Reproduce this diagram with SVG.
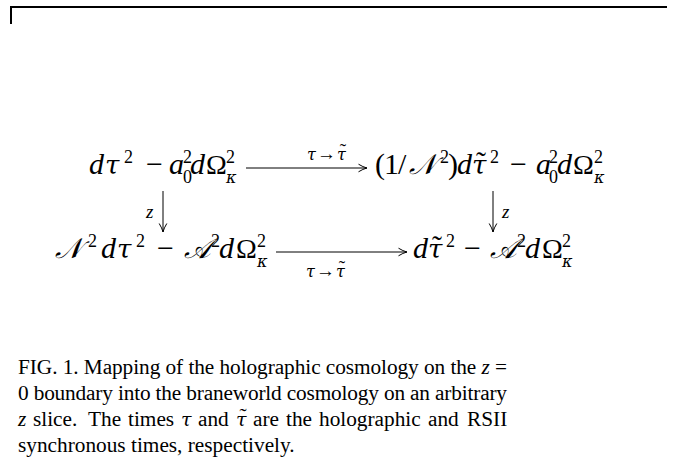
<svg xmlns="http://www.w3.org/2000/svg" width="689" height="470" viewBox="0 0 689 470">
<style>
text{font-family:"Liberation Serif","Times New Roman",serif;fill:#000}
.m{font-size:30px}
.o{font-size:28px}
.c{font-size:28px;font-style:italic}
.i{font-style:italic}
.g{font-family:"DejaVu Serif",serif;font-style:italic;font-size:26px}
.gs{font-family:"DejaVu Serif",serif;font-style:italic;font-size:16px}
.s{font-size:18px}
.l{font-size:19px}
.t{font-size:30px;text-anchor:middle}
.cap{font-size:21.3px}
.cg{font-family:"DejaVu Serif",serif;font-style:italic;font-size:19px}
.ln{stroke:#000;stroke-width:1;fill:none}
.ah{stroke:#000;stroke-width:1;fill:none}
</style>
<defs>
<marker id="arr" markerUnits="userSpaceOnUse" markerWidth="12" markerHeight="10" refX="10" refY="5" orient="auto" overflow="visible">
<path class="ah" d="M1.5 1.2 Q6 4 10 5 Q6 6 1.5 8.8"/>
</marker>
</defs>
<rect x="10" y="6" width="657" height="2" fill="#000"/>
<rect x="10" y="6" width="2" height="18" fill="#000"/>
<g id="n-tl">
<text class="m i" x="89" y="174">d</text>
<text class="g" x="105" y="174">τ</text>
<text class="s" x="124" y="163">2</text>
<text class="m" x="146" y="174">−</text>
<text class="m i" x="169" y="174">a</text>
<text class="s" x="183" y="163">2</text>
<text class="s" x="183" y="183">0</text>
<text class="m i" x="190" y="174">d</text>
<text class="o" x="206" y="174">Ω</text>
<text class="s" x="226" y="163">2</text>
<text class="gs" x="226" y="183">κ</text>
</g>
<g id="n-tr">
<text class="m" x="375" y="174">(</text>
<text class="m" x="384" y="174">1</text>
<text class="m" x="398" y="174">/</text>
<text class="c" x="409" y="174">𝒩</text>
<text class="s" x="440" y="163">2</text>
<text class="m" x="448" y="174">)</text>
<text class="m i" x="457" y="174">d</text>
<text class="g" x="472" y="174">τ</text>
<text class="t" x="481" y="172">˜</text>
<text class="s" x="490" y="163">2</text>
<text class="m" x="510" y="174">−</text>
<text class="m i" x="536" y="174">a</text>
<text class="s" x="549" y="163">2</text>
<text class="s" x="549" y="183">0</text>
<text class="m i" x="557" y="174">d</text>
<text class="o" x="573" y="174">Ω</text>
<text class="s" x="594" y="163">2</text>
<text class="gs" x="594" y="183">κ</text>
</g>
<g id="n-bl">
<text class="c" x="55" y="258">𝒩</text>
<text class="s" x="88" y="247">2</text>
<text class="m i" x="101" y="258">d</text>
<text class="g" x="117" y="258">τ</text>
<text class="s" x="136" y="247">2</text>
<text class="m" x="157" y="258">−</text>
<text class="c" x="184" y="258">𝒜</text>
<text class="s" x="211" y="247">2</text>
<text class="m i" x="219" y="258">d</text>
<text class="o" x="236" y="258">Ω</text>
<text class="s" x="257" y="247">2</text>
<text class="gs" x="257" y="267">κ</text>
</g>
<g id="n-br">
<text class="m i" x="413" y="258">d</text>
<text class="g" x="428" y="258">τ</text>
<text class="t" x="437" y="256">˜</text>
<text class="s" x="446" y="247">2</text>
<text class="m" x="464" y="258">−</text>
<text class="c" x="490" y="258">𝒜</text>
<text class="s" x="517" y="247">2</text>
<text class="m i" x="525" y="258">d</text>
<text class="o" x="542" y="258">Ω</text>
<text class="s" x="562" y="247">2</text>
<text class="gs" x="562" y="267">κ</text>
</g>
<g id="connectors">
<line class="ln" x1="246" y1="168" x2="367" y2="168" marker-end="url(#arr)"/>
<line class="ln" x1="276" y1="252" x2="407" y2="252" marker-end="url(#arr)"/>
<line class="ln" x1="163" y1="191" x2="163" y2="232" marker-end="url(#arr)"/>
<line class="ln" x1="493" y1="191" x2="493" y2="232" marker-end="url(#arr)"/>
<text class="l" x="307" y="160"><tspan class="gs">τ</tspan><tspan x="317">→</tspan><tspan class="gs" x="337">τ</tspan></text>
<text class="l" x="343" y="157" text-anchor="middle">˜</text>
<text class="l" x="306" y="277"><tspan class="gs">τ</tspan><tspan x="316">→</tspan><tspan class="gs" x="336">τ</tspan></text>
<text class="l" x="342" y="274" text-anchor="middle">˜</text>
<text class="l i" x="146" y="218">z</text>
<text class="l i" x="502" y="218">z</text>
</g>
<g id="caption">
<text class="cap" x="18" y="374" textLength="489" lengthAdjust="spacing">FIG. 1.  Mapping of the holographic cosmology on the <tspan font-style="italic">z</tspan> =</text>
<text class="cap" x="18" y="400" textLength="489" lengthAdjust="spacing">0 boundary into the braneworld cosmology on an arbitrary</text>
<text class="cap" y="426"><tspan x="18" font-style="italic">z</tspan><tspan x="33">slice.</tspan><tspan x="88">The</tspan><tspan x="128">times</tspan><tspan x="181" class="cg">τ</tspan><tspan x="198">and</tspan><tspan x="236" class="cg">τ</tspan><tspan x="253">are</tspan><tspan x="286">the</tspan><tspan x="319">holographic</tspan><tspan x="428">and</tspan><tspan x="467">RSII</tspan></text>
<text class="cap" x="243" y="423" text-anchor="middle">˜</text>
<text class="cap" x="18" y="452">synchronous times, respectively.</text>
</g>
</svg>
